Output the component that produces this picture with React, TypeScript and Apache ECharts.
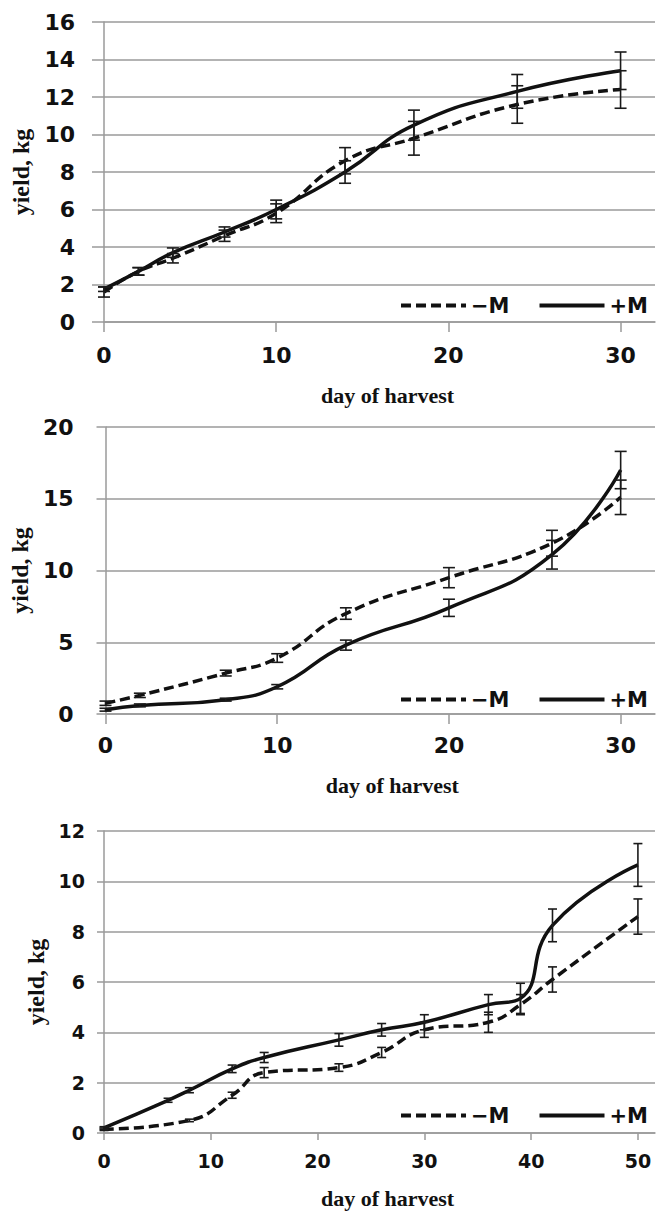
import React, { useEffect, useRef } from "react";
import * as echarts from "echarts";

const legendNames = ["−M", "+M"];
const xName = "day of harvest";
const yName = "yield, kg";

// Panel 1
const p1Days = [0, 2, 4, 7, 10, 14, 18, 24, 30];
const p1Minus = [1.6, 2.7, 3.4, 4.6, 5.8, 8.6, 9.8, 11.6, 12.4];
const p1MinusErr = [0.27, 0.2, 0.25, 0.3, 0.5, 0.7, 0.9, 1.0, 1.0];
const p1Plus = [1.75, 2.7, 3.7, 4.8, 6.0, 8.0, 10.5, 12.3, 13.4];
const p1PlusErr = [0.12, 0.2, 0.25, 0.27, 0.5, 0.6, 0.8, 0.9, 1.0];
const p1XTicks = [0, 10, 20, 30];

// Panel 2
const p2Days = [0, 2, 7, 10, 14, 20, 26, 30];
const p2Minus = [0.75, 1.3, 2.85, 3.9, 7.0, 9.5, 11.9, 15.1];
const p2MinusErr = [0.15, 0.15, 0.2, 0.3, 0.4, 0.7, 0.9, 1.2];
const p2Plus = [0.3, 0.6, 1.0, 1.9, 4.8, 7.4, 11.1, 17.0];
const p2PlusErr = [0.1, 0.1, 0.1, 0.15, 0.35, 0.6, 1.0, 1.3];
const p2XTicks = [0, 10, 20, 30];

// Panel 3
const p3MinusDays = [0, 8, 12, 15, 22, 26, 30, 36, 39, 42, 50];
const p3Minus = [0.15, 0.5, 1.5, 2.4, 2.6, 3.2, 4.1, 4.4, 5.1, 6.1, 8.6];
const p3MinusErr = [0.05, 0.05, 0.12, 0.2, 0.15, 0.2, 0.3, 0.4, 0.4, 0.5, 0.7];
const p3PlusDays = [0, 6, 8, 12, 15, 22, 26, 30, 36, 39, 42, 50];
const p3Plus = [0.2, 1.3, 1.7, 2.55, 3.0, 3.7, 4.1, 4.4, 5.1, 5.35, 8.25, 10.65];
const p3PlusErr = [0.05, 0.08, 0.1, 0.15, 0.2, 0.25, 0.25, 0.3, 0.4, 0.6, 0.65, 0.85];
const p3XTicks = [0, 10, 20, 30, 40, 50];

const GRAY = "#9a9a9a";
const INK = "#111";

function lineSeries(name: string, days: number[], vals: number[], dashed: boolean, idx: number) {
  return {
    type: "line",
    name,
    xAxisIndex: idx,
    yAxisIndex: idx,
    data: days.map((d, i) => [d, vals[i]]),
    smooth: 0.5,
    symbol: "none",
    lineStyle: { color: INK, width: 3.5, type: dashed ? [10, 5] : "solid" },
    itemStyle: { color: INK },
    z: 3,
  };
}

function errSeries(days: number[], vals: number[], errs: number[], idx: number, cap: number) {
  return {
    type: "custom",
    xAxisIndex: idx,
    yAxisIndex: idx,
    silent: true,
    z: 4,
    encode: { x: 0, y: [1, 2] },
    data: days.map((d, i) => [d, vals[i] - errs[i], vals[i] + errs[i]]),
    renderItem: (params: any, api: any) => {
      const x = api.value(0);
      const lo = api.coord([x, api.value(1)]);
      const hi = api.coord([x, api.value(2)]);
      const style = { stroke: "#1a1a1a", lineWidth: 1.6 };
      return {
        type: "group",
        children: [
          { type: "line", shape: { x1: lo[0], y1: lo[1], x2: hi[0], y2: hi[1] }, style },
          { type: "line", shape: { x1: lo[0] - cap, y1: lo[1], x2: lo[0] + cap, y2: lo[1] }, style },
          { type: "line", shape: { x1: hi[0] - cap, y1: hi[1], x2: hi[0] + cap, y2: hi[1] }, style },
        ],
      };
    },
  };
}

function xAxis(idx: number, max: number, ticks: number[], tickLen: number, labelFont: any, margin: number, nameGap: number, namePad: number) {
  return {
    type: "value",
    gridIndex: idx,
    min: 0,
    max,
    interval: 10,
    axisLine: { show: true, lineStyle: { color: GRAY, width: 1.5 } },
    axisTick: { show: true, length: tickLen, customValues: ticks, lineStyle: { color: GRAY, width: 1.5 } },
    axisLabel: { customValues: ticks, margin, color: INK, ...labelFont },
    splitLine: { show: false },
    name: xName,
    nameLocation: "middle",
    nameGap,
    nameTextStyle: {
      fontFamily: "Liberation Serif",
      fontWeight: "bold",
      fontSize: 22,
      color: INK,
      padding: [0, 0, 0, namePad],
    },
  };
}

function yAxis(idx: number, max: number, interval: number, tickLen: number, labelFont: any, margin: number, nameGap: number) {
  return {
    type: "value",
    gridIndex: idx,
    min: 0,
    max,
    interval,
    axisLine: { show: true, lineStyle: { color: GRAY, width: 1.5 } },
    axisTick: { show: true, length: tickLen, lineStyle: { color: GRAY, width: 1.5 } },
    axisLabel: { margin, color: INK, ...labelFont },
    splitLine: { show: true, lineStyle: { color: GRAY, width: 1.5 } },
    name: yName,
    nameLocation: "middle",
    nameGap,
    nameTextStyle: {
      fontFamily: "Liberation Serif",
      fontWeight: "bold",
      fontSize: 24,
      color: INK,
    },
  };
}

function legend(top: number) {
  return {
    data: legendNames,
    right: 5,
    top,
    orient: "horizontal",
    itemWidth: 65,
    itemHeight: 14,
    itemGap: 28,
    selectedMode: false,
    itemStyle: { opacity: 0 },
    lineStyle: { width: 4 },
    textStyle: { fontFamily: "DejaVu Sans", fontWeight: "bold", fontSize: 21, color: INK },
  };
}

const boldFont = { fontFamily: "DejaVu Sans", fontWeight: "bold", fontSize: 22 };
const p3Font = { fontFamily: "DejaVu Sans", fontWeight: "bold", fontSize: 19 };

export default function App() {
  const ref = useRef<HTMLDivElement>(null);
  useEffect(() => {
    if (!ref.current) return;
    const chart = echarts.init(ref.current, null, { renderer: "svg" });
    chart.setOption({
      animation: false,
      backgroundColor: "#ffffff",
      grid: [
        { left: 104, top: 22, width: 551, height: 300 },
        { left: 104, top: 427, width: 551, height: 287 },
        { left: 104, top: 831, width: 551, height: 302 },
      ],
      xAxis: [
        xAxis(0, 32, p1XTicks, 10, boldFont, 22, 62, 16),
        xAxis(1, 32, p2XTicks, 10, boldFont, 20, 60, 24),
        xAxis(2, 51.6, p3XTicks, 7, p3Font, 18, 54, 16),
      ],
      yAxis: [
        yAxis(0, 16, 2, 12, boldFont, 29, 71),
        yAxis(1, 20, 5, 9, boldFont, 32, 72),
        yAxis(2, 12, 2, 7, p3Font, 19, 46),
      ],
      legend: [legend(290), legend(684), legend(1100)],
      series: [
        lineSeries(legendNames[0], p1Days, p1Minus, true, 0),
        lineSeries(legendNames[1], p1Days, p1Plus, false, 0),
        errSeries(p1Days, p1Minus, p1MinusErr, 0, 6),
        errSeries(p1Days, p1Plus, p1PlusErr, 0, 6),
        lineSeries(legendNames[0], p2Days, p2Minus, true, 1),
        lineSeries(legendNames[1], p2Days, p2Plus, false, 1),
        errSeries(p2Days, p2Minus, p2MinusErr, 1, 6),
        errSeries(p2Days, p2Plus, p2PlusErr, 1, 6),
        lineSeries(legendNames[0], p3MinusDays, p3Minus, true, 2),
        lineSeries(legendNames[1], p3PlusDays, p3Plus, false, 2),
        errSeries(p3MinusDays, p3Minus, p3MinusErr, 2, 4.5),
        errSeries(p3PlusDays, p3Plus, p3PlusErr, 2, 4.5),
      ],
    });
    return () => chart.dispose();
  }, []);
  return (
    <div
      ref={ref}
      style={{ position: "absolute", left: 0, top: 0, width: 658, height: 1213, background: "#fff" }}
    />
  );
}
